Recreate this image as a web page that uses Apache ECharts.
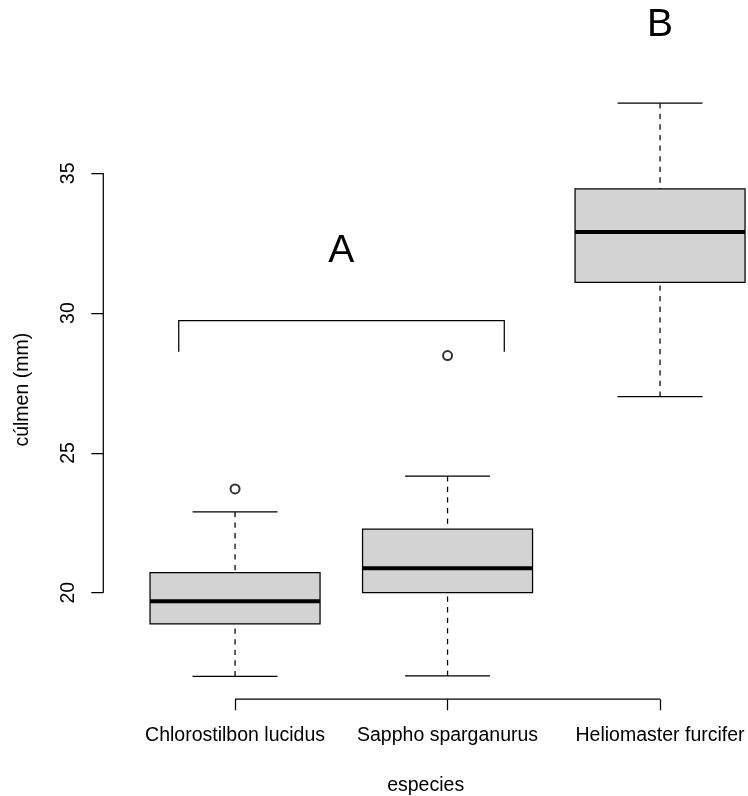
<!DOCTYPE html>
<html>
<head>
<meta charset="utf-8">
<script src="https://cdn.jsdelivr.net/npm/echarts@6/dist/echarts.min.js"></script>
<style>
  html, body { margin: 0; padding: 0; background: #ffffff; }
  #chart { width: 748px; height: 796px; }
</style>
</head>
<body>
<div id="chart"></div>
<script>
// Culmen length (mm) by hummingbird species
const species = ['Chlorostilbon lucidus', 'Sappho sparganurus', 'Heliomaster furcifer'];
const lowerWhisker = [17.01, 17.02, 27.01];
const q1 = [18.88, 20.00, 31.10];
const median = [19.69, 20.87, 32.90];
const q3 = [20.72, 22.27, 34.44];
const upperWhisker = [22.89, 24.17, 37.51];
// outliers as [group position, value]
const outliers = [[1, 23.71], [2, 28.48]];
const yTicks = [20, 25, 30, 35];
const xTicks = [1, 2, 3];
// significance groups: [x, y, letter]
const groupLetters = [[1.5, 32.22, 'A'], [3, 40.31, 'B']];
// bracket joining groups sharing letter A
const bracketX = [0.735, 2.267];
const bracketY = [28.62, 29.73];

const FONT = "'Liberation Sans', Arial, Helvetica, sans-serif";
// visible part of the category range; the plot runs on past the right edge of the page
const X_MIN = 0.38, X_MAX = 3.4139;
const Y_MIN = 16.19, Y_MAX = 38.33;
const LW = 1.25;

const boxData = species.map((s, i) => [i + 1, lowerWhisker[i], q1[i], median[i], q3[i], upperWhisker[i]]);

function renderBox(params, api) {
  const x = api.value(0);
  const halfW = 0.4, halfStaple = 0.2;
  const c = (xx, yy) => api.coord([xx, yy]);
  const lo = c(x, api.value(1));
  const b = c(x, api.value(2));
  const m = c(x, api.value(3));
  const t = c(x, api.value(4));
  const hi = c(x, api.value(5));
  const left = c(x - halfW, 0)[0], right = c(x + halfW, 0)[0];
  const sl = c(x - halfStaple, 0)[0], sr = c(x + halfStaple, 0)[0];
  const solid = { stroke: '#000', lineWidth: LW, fill: null };
  const dashed = { stroke: '#000', lineWidth: LW, lineDash: [5.3, 5.3], fill: null };
  return {
    type: 'group',
    children: [
      { type: 'line', shape: { x1: lo[0], y1: lo[1], x2: b[0], y2: b[1] }, style: dashed },
      { type: 'line', shape: { x1: hi[0], y1: hi[1], x2: t[0], y2: t[1] }, style: dashed },
      { type: 'line', shape: { x1: sl, y1: lo[1], x2: sr, y2: lo[1] }, style: solid },
      { type: 'line', shape: { x1: sl, y1: hi[1], x2: sr, y2: hi[1] }, style: solid },
      { type: 'rect', shape: { x: left, y: t[1], width: right - left, height: b[1] - t[1] },
        style: { fill: '#d3d3d3', stroke: '#000', lineWidth: LW } },
      { type: 'line', shape: { x1: left, y1: m[1], x2: right, y2: m[1] },
        style: { stroke: '#000', lineWidth: 4, fill: null } }
    ]
  };
}

// axis lines span only first to last tick
function renderAxes(params, api) {
  const yl0 = api.coord([X_MIN, yTicks[0]]);
  const yl1 = api.coord([X_MIN, yTicks[yTicks.length - 1]]);
  const xl0 = api.coord([xTicks[0], Y_MIN]);
  const xl1 = api.coord([xTicks[xTicks.length - 1], Y_MIN]);
  const st = { stroke: '#000', lineWidth: LW, fill: null };
  return {
    type: 'group',
    children: [
      { type: 'line', shape: { x1: yl0[0], y1: yl0[1], x2: yl1[0], y2: yl1[1] }, style: st },
      { type: 'line', shape: { x1: xl0[0], y1: xl0[1], x2: xl1[0], y2: xl1[1] }, style: st }
    ]
  };
}

function renderBracket(params, api) {
  const p = [
    api.coord([bracketX[0], bracketY[0]]),
    api.coord([bracketX[0], bracketY[1]]),
    api.coord([bracketX[1], bracketY[1]]),
    api.coord([bracketX[1], bracketY[0]])
  ];
  return { type: 'polyline', shape: { points: p }, style: { stroke: '#000', lineWidth: LW, fill: null } };
}

function renderLetter(params, api) {
  const p = api.coord([api.value(0), api.value(1)]);
  return {
    type: 'text',
    x: p[0], y: p[1],
    style: {
      text: groupLetters[params.dataIndex][2],
      fontSize: 39, fontFamily: FONT, fill: '#000',
      align: 'center', verticalAlign: 'middle'
    }
  };
}

const chart = echarts.init(document.getElementById('chart'), null, { renderer: 'canvas' });
chart.setOption({
  backgroundColor: '#ffffff',
  animation: false,
  grid: { left: 103.3, top: 80.2, right: 0, height: 619.0, containLabel: false, outerBoundsMode: 'none' },
  xAxis: {
    type: 'value', min: X_MIN, max: X_MAX,
    name: 'especies', nameLocation: 'middle', nameGap: 76,
    nameTextStyle: { fontSize: 19.5, fontFamily: FONT, color: '#000' },
    axisLine: { show: false },
    splitLine: { show: false },
    axisTick: { show: true, customValues: xTicks, length: 11, lineStyle: { color: '#000', width: LW } },
    axisLabel: {
      customValues: xTicks, margin: 26, fontSize: 19.5, fontFamily: FONT, color: '#000',
      hideOverlap: false,
      formatter: v => species[Math.round(v) - 1]
    }
  },
  yAxis: {
    type: 'value', min: Y_MIN, max: Y_MAX,
    name: 'cúlmen (mm)', nameLocation: 'middle', nameGap: 71, nameRotate: 90,
    nameTextStyle: { fontSize: 19.5, fontFamily: FONT, color: '#000' },
    axisLine: { show: false },
    splitLine: { show: false },
    axisTick: { show: true, customValues: yTicks, length: 12, lineStyle: { color: '#000', width: LW } },
    axisLabel: {
      customValues: yTicks, rotate: 90, margin: 25, fontSize: 19.5, fontFamily: FONT, color: '#000'
    }
  },
  series: [
    { type: 'custom', name: 'axes', renderItem: renderAxes, data: [[X_MIN, Y_MIN]], clip: false, silent: true, z: 1 },
    { type: 'custom', name: 'culmen', renderItem: renderBox, data: boxData, clip: false,
      encode: { x: 0, y: [1, 2, 3, 4, 5] }, z: 2 },
    { type: 'scatter', name: 'outliers', data: outliers, symbol: 'emptyCircle', symbolSize: 9,
      itemStyle: { color: '#000', borderWidth: LW }, z: 3 },
    { type: 'custom', name: 'bracket', renderItem: renderBracket, data: [[bracketX[0], bracketY[1]]], clip: false, z: 2 },
    { type: 'custom', name: 'letters', renderItem: renderLetter,
      data: groupLetters.map(g => [g[0], g[1]]), clip: false, z: 4 }
  ]
});
</script>
</body>
</html>
